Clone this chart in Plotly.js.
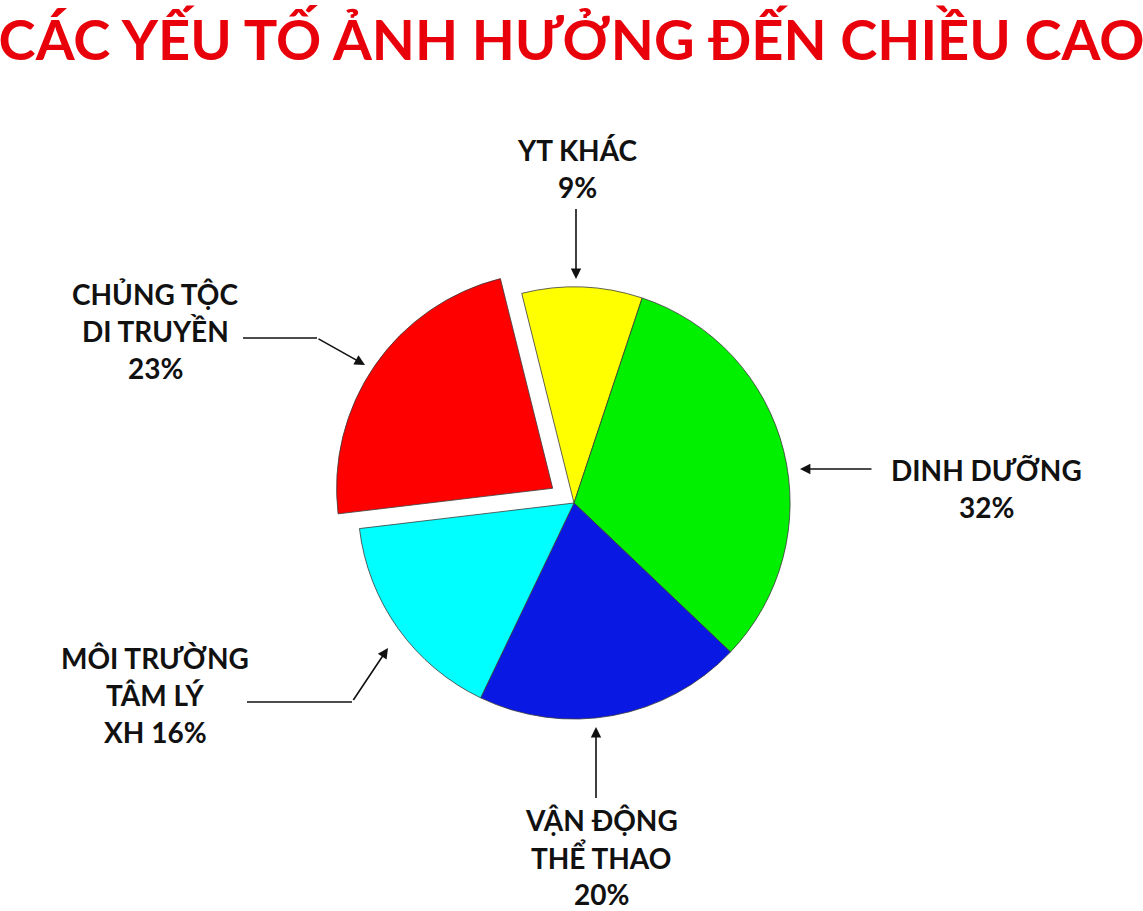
<!DOCTYPE html>
<html>
<head>
<meta charset="utf-8">
<script src="https://cdn.plot.ly/plotly-3.0.1.min.js"></script>
<style>
  html, body { margin: 0; padding: 0; background: #fff; }
  #plot { width: 1143px; height: 911px; }
</style>
</head>
<body>
<div id="plot"></div>
<script>
// slices, clockwise from the yellow one
var labels = ["YT KHÁC", "DINH DƯỠNG", "VẬN ĐỘNG THỂ THAO", "MÔI TRƯỜNG TÂM LÝ XH", "CHỦNG TỘC DI TRUYỀN"];
var values = [9, 32, 20, 16, 23];
var colors = ["#ffff00", "#00f000", "#0a18e4", "#00ffff", "#ff0000"];
var pulls = [0, 0, 0, 0, 0.12];

// callout text (last line carries the percentage)
var calloutLines = [
  ["YT KHÁC", ""],
  ["DINH DƯỠNG", ""],
  ["VẬN ĐỘNG", "THỂ THAO", ""],
  ["MÔI TRƯỜNG", "TÂM LÝ", "XH "],
  ["CHỦNG TỘC", "DI TRUYỀN", ""]
];

var W = 1143, H = 911;
function px(x) { return x / W; }
function py(y) { return 1 - y / H; }

// callout placement in pixels: text centre, first line y
var calloutPos = [[577, 150], [986, 470], [601, 820], [155, 658], [155, 294]];
var lineGap = 37;

// arrows: head (x, y) and tail (x, y); elbows for the bent ones
var arrowHeads = [[576, 279], [800, 469], [596, 727], [388, 648], [365, 365]];
var arrowTails = [[576, 207], [873, 469], [596, 800], [352, 702], [317, 338]];
var elbows = [null, null, null, [247, 702], [243, 338]];

var trace = {
  type: "pie",
  labels: labels,
  values: values,
  sort: false,
  direction: "clockwise",
  rotation: -14,
  pull: pulls,
  textinfo: "none",
  hoverinfo: "label+percent",
  marker: { colors: colors, line: { color: "#3a3a3a", width: 0.8 } },
  domain: { x: [px(332), px(816)], y: [py(745), py(261)] },
  showlegend: false
};

var labelFont = { family: "Lato, 'Open Sans', sans-serif", size: 28, color: "#111", weight: 700 };
var annotations = [];
var shapes = [];

calloutLines.forEach(function (lines, i) {
  lines.forEach(function (t, j) {
    var txt = (j === lines.length - 1) ? t + values[i] + "%" : t;
    annotations.push({
      xref: "paper", yref: "paper",
      x: px(calloutPos[i][0]), y: py(calloutPos[i][1] + j * lineGap),
      xanchor: "center", yanchor: "middle",
      text: txt, showarrow: false, font: labelFont
    });
  });
  var h = arrowHeads[i], t = arrowTails[i];
  annotations.push({
    xref: "paper", yref: "paper",
    x: px(h[0]), y: py(h[1]),
    ax: t[0] - h[0], ay: t[1] - h[1],
    axref: "pixel", ayref: "pixel",
    text: " ", font: { size: 1 },
    showarrow: true, arrowhead: 2, arrowsize: 1.3, arrowwidth: 1.6,
    arrowcolor: "#111", standoff: 0, startstandoff: 0
  });
  if (elbows[i]) {
    shapes.push({
      type: "line", xref: "paper", yref: "paper",
      x0: px(elbows[i][0]), y0: py(elbows[i][1]),
      x1: px(t[0]), y1: py(t[1]),
      line: { color: "#111", width: 1.6 }
    });
  }
});

var layout = {
  width: W, height: H,
  margin: { l: 0, r: 0, t: 0, b: 0 },
  paper_bgcolor: "#fff",
  title: {
    text: "CÁC YẾU TỐ ẢNH HƯỞNG ĐẾN CHIỀU CAO",
    font: { family: "Lato, sans-serif", size: 56, color: "#e8000b", weight: 700 },
    x: 0.5, xanchor: "center",
    y: 1 - 40 / H, yanchor: "middle", yref: "container"
  },
  annotations: annotations,
  shapes: shapes
};

Plotly.newPlot("plot", [trace], layout, { displayModeBar: false });
</script>
</body>
</html>
